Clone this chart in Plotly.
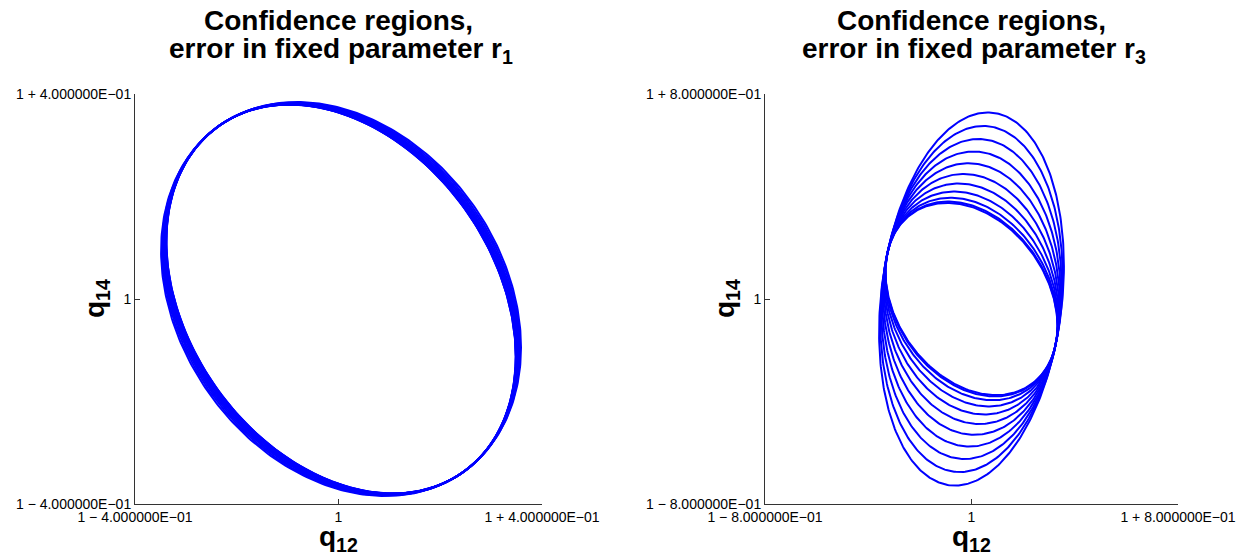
import numpy as np
import plotly.graph_objects as go

# ---- chart values -------------------------------------------------------
# Left panel: confidence ellipses for (q12, q14) with an error in r1
left_center = [1.005, 1.0]
left_base_cov = [0.1179, 0.1440, -0.0387]      # var_x, var_y, cov_xy
left_dir = [0.81, 0.585]                        # direction of the added r1 error
left_steps = [0, 1, 2, 3, 4, 5, 6, 7, 8, 9, 10]
left_step_size = 0.0105

# Right panel: confidence ellipses for (q12, q14) with an error in r3
right_center = [1.0, 1.0]
right_base_cov = [0.111, 0.1406, -0.0356]
right_dir = [0.21, 1.0]
right_steps = [0, 1, 2, 3, 4, 5, 6, 7, 8, 9, 10]
right_step_size = 0.0624

left_ticks = [0.6, 1.0, 1.4]
left_ticktext = ["1 \u2212 4.000000E\u221201", "1", "1 + 4.000000E\u221201"]
right_ticks = [0.2, 1.0, 1.8]
right_ticktext = ["1 \u2212 8.000000E\u221201", "1", "1 + 8.000000E\u221201"]

BLUE = "#0000FF"
FONT = "Liberation Sans, Arial, Helvetica, sans-serif"


def ellipse(center, cov, direction, s, n=361):
    vx, vy, cxy = cov
    d = np.array(direction, dtype=float)
    S = np.array([[vx, cxy], [cxy, vy]]) + s * np.outer(d, d)
    L = np.linalg.cholesky(S)
    t = np.linspace(0, 2 * np.pi, n)
    pts = L @ np.vstack([np.cos(t), np.sin(t)])
    return center[0] + pts[0], center[1] + pts[1]


fig = go.Figure()

for k in left_steps:
    x, y = ellipse(left_center, left_base_cov, left_dir, (k * left_step_size) ** 2)
    fig.add_trace(go.Scatter(x=x, y=y, mode="lines", line=dict(color=BLUE, width=2),
                             xaxis="x", yaxis="y", showlegend=False, hoverinfo="skip"))

for k in right_steps:
    x, y = ellipse(right_center, right_base_cov, right_dir, (k * right_step_size) ** 2)
    fig.add_trace(go.Scatter(x=x, y=y, mode="lines", line=dict(color=BLUE, width=2),
                             xaxis="x2", yaxis="y2", showlegend=False, hoverinfo="skip"))

W, H = 1239, 556
y_dom = [(H - 504) / H, (H - 94) / H]
lx_dom = [135 / W, 542 / W]
rx_dom = [765 / W, 1178 / W]

axis_common = dict(showgrid=False, zeroline=False, showline=True, linecolor="#333333",
                   linewidth=1, ticks="inside", ticklen=5, tickcolor="#333333",
                   tickfont=dict(family=FONT, size=14, color="black"), mirror=False,
                   automargin=False)

fig.update_layout(
    width=W, height=H,
    margin=dict(l=0, r=0, t=0, b=0),
    paper_bgcolor="white", plot_bgcolor="white",
    xaxis=dict(domain=lx_dom, range=[left_ticks[0], left_ticks[-1]], tickvals=left_ticks,
               ticktext=left_ticktext, anchor="y", **axis_common),
    yaxis=dict(domain=y_dom, range=[left_ticks[0], left_ticks[-1]], tickvals=left_ticks,
               ticktext=left_ticktext, anchor="x", **axis_common),
    xaxis2=dict(domain=rx_dom, range=[right_ticks[0], right_ticks[-1]], tickvals=right_ticks,
                ticktext=right_ticktext, anchor="y2", **axis_common),
    yaxis2=dict(domain=y_dom, range=[right_ticks[0], right_ticks[-1]], tickvals=right_ticks,
                ticktext=right_ticktext, anchor="x2", **axis_common),
)

title_font = dict(family=FONT, size=28, color="black")
label_font = dict(family=FONT, size=28, color="black")

annotations = []
for xc, sub in [((lx_dom[0] + lx_dom[1]) / 2, "1"), ((rx_dom[0] + rx_dom[1]) / 2, "3")]:
    annotations.append(dict(
        text="<b>Confidence regions,</b>",
        x=xc, y=1 - 20 / H, xref="paper", yref="paper", xanchor="center", yanchor="middle",
        showarrow=False, font=title_font))
    annotations.append(dict(
        text=f"<b>error in fixed parameter r<sub>{sub}</sub></b>",
        x=xc + 2 / W, y=1 - 51 / H, xref="paper", yref="paper", xanchor="center",
        yanchor="middle", showarrow=False, font=title_font))
    annotations.append(dict(
        text="<b>q<sub>12</sub></b>", x=xc, y=1 - 538 / H, xref="paper", yref="paper",
        xanchor="center", yanchor="middle", showarrow=False, font=label_font))

for xp in [96 / W, 726 / W]:
    annotations.append(dict(
        text="<b>q<sub>14</sub></b>", x=xp, y=(y_dom[0] + y_dom[1]) / 2, xref="paper",
        yref="paper", xanchor="center", yanchor="middle", showarrow=False,
        font=label_font, textangle=-90))

fig.update_layout(annotations=annotations)

fig.write_html("out.html")
